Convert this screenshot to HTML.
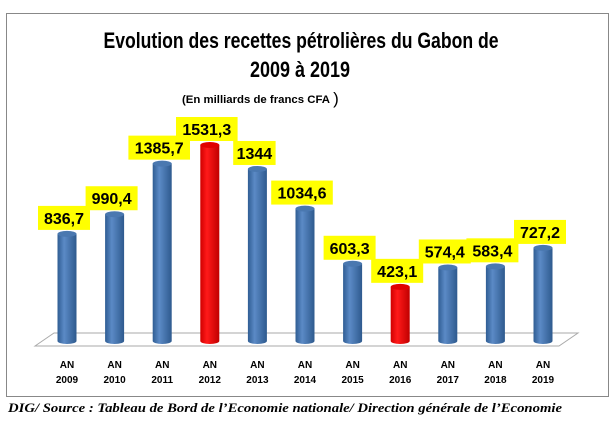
<!DOCTYPE html>
<html><head><meta charset="utf-8"><style>
html,body{margin:0;padding:0;background:#fff;}
svg{display:block;}
</style></head><body>
<svg width="615" height="427" viewBox="0 0 615 427" xmlns="http://www.w3.org/2000/svg">
<defs>
<linearGradient id="gb" x1="0" x2="1" y1="0" y2="0">
<stop offset="0" stop-color="#2f5d93"/><stop offset="0.35" stop-color="#5b8ac6"/><stop offset="1" stop-color="#2e5a8e"/>
</linearGradient>
<linearGradient id="gr" x1="0" x2="1" y1="0" y2="0">
<stop offset="0" stop-color="#d00000"/><stop offset="0.35" stop-color="#ff1a1a"/><stop offset="1" stop-color="#c00000"/>
</linearGradient>
</defs>
<rect x="6.5" y="13.5" width="602" height="383" fill="#fff" stroke="#888" stroke-width="1"/>
<g font-family="'Liberation Sans',sans-serif" font-weight="bold" fill="#000" text-anchor="middle">
<text x="301" y="48" font-size="22" textLength="395" lengthAdjust="spacingAndGlyphs">Evolution des recettes pétrolières du Gabon de</text>
<text x="300" y="77" font-size="22" textLength="100" lengthAdjust="spacingAndGlyphs">2009 à 2019</text>
<text x="256" y="103" font-size="11" textLength="148" lengthAdjust="spacingAndGlyphs">(En milliards de francs CFA</text>
<text x="336" y="104" font-size="17" font-weight="normal">)</text>
</g>
<polygon points="35,346 54,333 578,333 559,346" fill="#fff" stroke="#aaa" stroke-width="1"/>
<g id="bars"></g>
<g font-family="'Liberation Sans',sans-serif" font-weight="bold" font-size="10" text-anchor="middle" fill="#000" id="xl"></g>
<g id="labels" font-family="'Liberation Sans',sans-serif" font-weight="bold" font-size="16" text-anchor="middle"></g>
<text x="8" y="412" font-family="'Liberation Serif',serif" font-style="italic" font-weight="bold" font-size="12.5" textLength="554" lengthAdjust="spacingAndGlyphs">DIG/ Source : Tableau de Bord de l’Economie nationale/ Direction générale de l’Economie</text>
<script>
(function(){
var v=[836.7,990.4,1385.7,1531.3,1344,1034.6,603.3,423.1,574.4,583.4,727.2];
var t=["836,7","990,4","1385,7","1531,3","1344","1034,6","603,3","423,1","574,4","583,4","727,2"];
var ns="http://www.w3.org/2000/svg",b=document.getElementById("bars"),xl=document.getElementById("xl"),lb=document.getElementById("labels");
function el(p,n,a,tx){var e=document.createElementNS(ns,n);for(var k in a)e.setAttribute(k,a[k]);if(tx)e.textContent=tx;p.appendChild(e);return e;}
for(var i=0;i<11;i++){
 var cx=67+i*47.6,w=19,bot=341,ty=bot-v[i]*0.128;
 var red=(i==3||i==7),g=red?"url(#gr)":"url(#gb)",cap=red?"#e00000":"#4a78b0";
 el(b,"path",{d:"M"+(cx-w/2)+","+ty+" L"+(cx-w/2)+","+bot+" A"+(w/2)+",3 0 0 0 "+(cx+w/2)+","+bot+" L"+(cx+w/2)+","+ty+" Z",fill:g});
 el(b,"ellipse",{cx:cx,cy:ty,rx:w/2,ry:3,fill:cap});
 el(xl,"text",{x:cx,y:368},"AN");el(xl,"text",{x:cx,y:383},String(2009+i));
 var tw=t[i].length*9.6+4,lx=cx-3;
 el(lb,"rect",{x:lx-tw/2,y:ty-28,width:tw,height:24,fill:"#ffff00"});
 el(lb,"text",{x:lx,y:ty-10,fill:"#000"},t[i]);
}
})();
</script>
</svg>
</body></html>
